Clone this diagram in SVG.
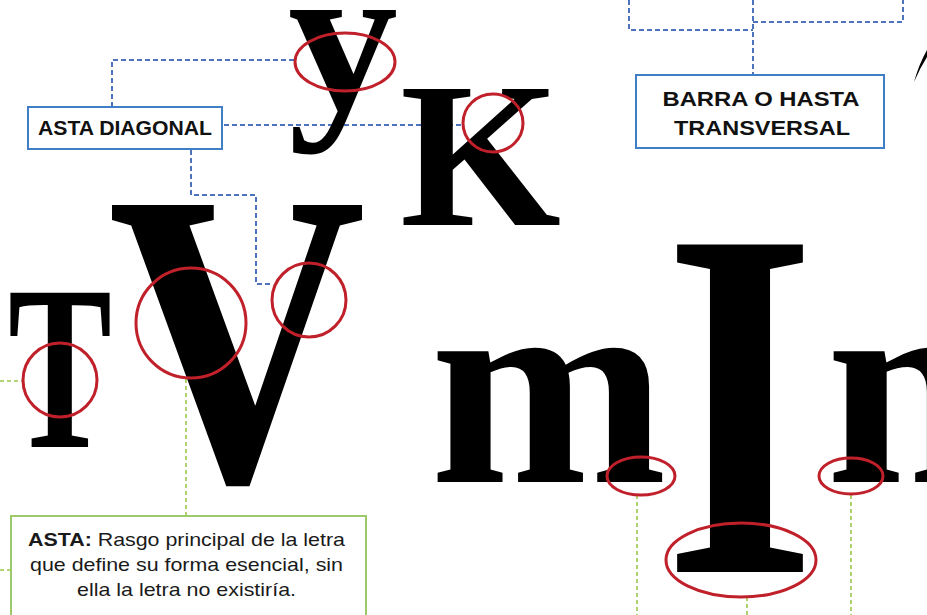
<svg xmlns="http://www.w3.org/2000/svg" width="927" height="615" viewBox="0 0 927 615">
<style>
.bg{fill:#ffffff}
.glyph{font-family:"Liberation Serif","Times New Roman",serif;font-weight:bold;fill:#000000}
.mark{fill:none;stroke:#c0202a;stroke-width:3}
.blue{fill:none;stroke:#4f72bd;stroke-width:2;stroke-dasharray:5 3}
.green{fill:none;stroke:#9cc84a;stroke-width:1.6;stroke-dasharray:4 3}
.bbox{fill:#ffffff;stroke:#3f7fc6;stroke-width:2}
.gbox{fill:#ffffff;stroke:#9cc96a;stroke-width:2}
.lbl{font-family:"Liberation Sans",Arial,sans-serif;font-weight:bold;fill:#111111;text-anchor:middle}
.desc{font-family:"Liberation Sans",Arial,sans-serif;font-size:18.5px;fill:#1a1a1a}
</style>
<rect class="bg" x="0" y="0" width="927" height="615"/>

<g id="connectors">
  <polyline class="blue" points="112,107 112,60 295,60"/>
  <polyline class="blue" points="224,125 464,125"/>
  <polyline class="blue" points="191,150 191,195 256,195 256,284 273,284"/>
  <polyline class="blue" points="753,0 753,75"/>
  <polyline class="blue" points="629,0 629,30 753,30"/>
  <polyline class="blue" points="753,22 903,22 903,0"/>
  <polyline class="green" points="0,381 22,381"/>
  <polyline class="green" points="0,570 11,570"/>
  <polyline class="green" points="186,379 186,516"/>
  <polyline class="green" points="637,495 637,615"/>
  <polyline class="green" points="747,597 747,615"/>
  <polyline class="green" points="851,495 851,615"/>
</g>

<g id="letter-y"><text class="glyph" x="288" y="108" font-size="215" textLength="110" lengthAdjust="spacingAndGlyphs">y</text></g>
<g id="letter-K"><text class="glyph" x="400" y="225" font-size="207">K</text></g>
<g id="letter-V"><text class="glyph" x="108" y="480" font-size="420" textLength="258" lengthAdjust="spacingAndGlyphs">V</text></g>
<g id="letter-T"><text class="glyph" x="8" y="447" font-size="235" textLength="104" lengthAdjust="spacingAndGlyphs">T</text></g>
<g id="letter-m"><text class="glyph" x="430" y="482" font-size="285" textLength="237" lengthAdjust="spacingAndGlyphs">m</text></g>
<g id="letter-I"><text class="glyph" x="664" y="572" font-size="500" textLength="152" lengthAdjust="spacingAndGlyphs">I</text></g>
<g id="letter-n"><text class="glyph" x="826" y="482" font-size="285">n</text></g>
<g id="stroke-topright"><path d="M914,82 Q919,64 927,50 L927,57 Q920,68 914,82 Z" fill="#000"/></g>

<g id="marks">
  <ellipse class="mark" cx="345" cy="62" rx="50" ry="29"/>
  <ellipse class="mark" cx="493" cy="123" rx="30" ry="29"/>
  <ellipse class="mark" cx="191" cy="323" rx="55" ry="55"/>
  <ellipse class="mark" cx="309" cy="300" rx="37" ry="37"/>
  <ellipse class="mark" cx="60" cy="380" rx="37" ry="37"/>
  <ellipse class="mark" cx="641" cy="476" rx="34" ry="19"/>
  <ellipse class="mark" cx="741" cy="560" rx="75" ry="37"/>
  <ellipse class="mark" cx="851" cy="476" rx="32" ry="18"/>
</g>

<g id="label-asta-diagonal">
  <rect class="bbox" x="28" y="107" width="194" height="42"/>
  <text class="lbl" x="125" y="135" font-size="20" textLength="174" lengthAdjust="spacingAndGlyphs">ASTA DIAGONAL</text>
</g>

<g id="label-barra">
  <rect class="bbox" x="636" y="75" width="248" height="73"/>
  <text class="lbl" x="761" y="106" font-size="21" textLength="197" lengthAdjust="spacingAndGlyphs">BARRA O HASTA</text>
  <text class="lbl" x="762" y="135" font-size="21" textLength="176" lengthAdjust="spacingAndGlyphs">TRANSVERSAL</text>
</g>

<g id="label-asta">
  <rect class="gbox" x="11" y="516" width="355" height="110"/>
  <text class="desc" x="28" y="546" textLength="317" lengthAdjust="spacingAndGlyphs"><tspan font-weight="bold">ASTA:</tspan> Rasgo principal de la letra</text>
  <text class="desc" x="30" y="571" textLength="313" lengthAdjust="spacingAndGlyphs">que define su forma esencial, sin</text>
  <text class="desc" x="77" y="596" textLength="219" lengthAdjust="spacingAndGlyphs">ella la letra no existiría.</text>
</g>
</svg>
